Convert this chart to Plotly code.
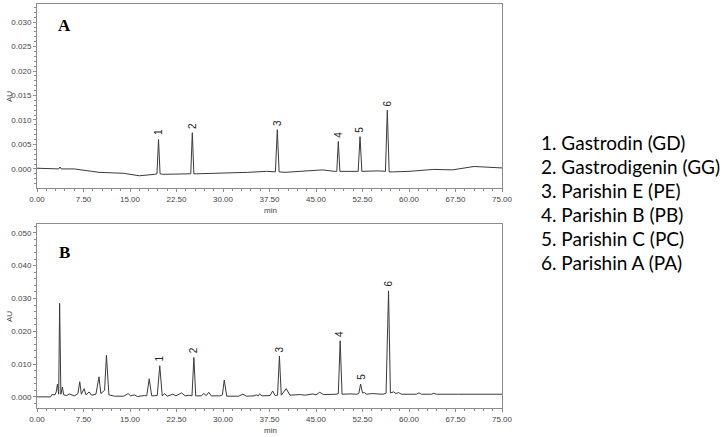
import plotly.graph_objects as go

# chromatogram A (standard mix) - retention time (min) and absorbance (AU)
a_time = [0, 2.0, 3.5, 3.7, 3.9, 6.0, 10.0, 14.0, 16.5,
          19.0, 19.35, 19.6, 19.85, 20.3,
          24.4, 24.8, 25.05, 25.3, 25.7,
          30.0, 34.0, 37.0, 38.45, 38.76, 39.05, 40.0,
          45.0, 46.0, 48.0, 48.35, 48.6, 48.85, 50.0,
          51.8, 52.1, 52.4, 55.0, 56.2, 56.5, 56.8, 57.5,
          60.0, 64.0, 67.0, 70.5, 75.0]
a_au = [0.00014, 0.0001, 0.0000, 0.0004, 0.0000, 0.0000, -0.0007, -0.0009, -0.0014,
        -0.0011, -0.0010, 0.0060, -0.0010, -0.0011,
        -0.0011, -0.0010, 0.0074, -0.0010, -0.0010,
        -0.0009, -0.0007, -0.0005, -0.0006, 0.0080, -0.0006, -0.0007,
        -0.0002, -0.0002, -0.0005, -0.0005, 0.0056, -0.0005, -0.0005,
        -0.0005, 0.0066, -0.0005, -0.0004, -0.0005, 0.0120, -0.0006, -0.0006,
        -0.0005, -0.0001, -0.0002, 0.0005, 0.0002]

# chromatogram B (sample)
b_time = [0, 2.2, 2.4, 2.9, 3.1, 3.3, 3.5, 3.65, 3.85, 4.1, 4.3, 4.8, 5.2, 5.6,
          6.0, 6.3, 6.6, 6.9, 7.15, 7.6, 7.9, 8.4, 8.8, 9.5, 10.0, 10.3, 10.6,
          10.9, 11.2, 11.6, 12.5, 14.0, 14.7, 15.1, 15.7, 16.2, 17.3, 17.7,
          18.1, 18.5, 19.4, 19.8, 20.2, 20.6, 21.0, 21.9, 22.4, 23.3, 23.9,
          24.5, 25.0, 25.3, 25.6, 26.5, 26.9, 27.3, 27.7, 28.1, 29.5, 29.9,
          30.2, 30.6, 32.5, 33.2, 33.8, 35.0, 35.4, 35.7, 35.9, 36.3, 37.6,
          38.0, 38.4, 38.8, 39.1, 39.4, 40.2, 40.8, 42.5, 43.2, 44.5, 45.0,
          45.6, 46.2, 48.2, 48.6, 48.9, 49.2, 50.5, 51.5, 51.9, 52.2, 52.5,
          52.8, 53.2, 54.0, 55.8, 56.3, 56.7, 57.0, 57.5, 57.9, 58.3, 58.8,
          61.2, 61.6, 62.0, 63.6, 64.0, 64.4, 68.0, 75.0]
b_au = [0.0, 0.0, 0.0007, 0.0006, 0.0015, 0.0039, 0.0008, 0.0285, 0.0008, 0.0030, 0.0006, 0.0004, 0.0009, 0.0006,
        0.0003, 0.0006, 0.0010, 0.0046, 0.0008, 0.0025, 0.0006, 0.0015, 0.0005, 0.0008, 0.0061, 0.0010, 0.0016,
        0.0020, 0.0127, 0.0006, 0.0002, 0.0002, 0.0010, 0.0003, 0.0006, 0.0001, 0.0004, 0.0003,
        0.0055, 0.0003, 0.0004, 0.0095, 0.0003, 0.0010, 0.0002, 0.0008, 0.0003, 0.0012, 0.0003,
        0.0005, 0.0003, 0.0120, 0.0003, 0.0003, 0.0010, 0.0004, 0.0014, 0.0003, 0.0003, 0.0006,
        0.0051, 0.0002, 0.0002, 0.0008, 0.0002, 0.0003, 0.0006, 0.0003, 0.0009, 0.0003, 0.0004,
        0.0018, 0.0004, 0.0005, 0.0124, 0.0005, 0.0025, 0.0005, 0.0007, 0.0005, 0.0009, 0.0006,
        0.0014, 0.0007, 0.0008, 0.0010, 0.0171, 0.0008, 0.0009, 0.0008, 0.0010, 0.0039, 0.0012,
        0.0013, 0.0008, 0.0010, 0.0008, 0.0011, 0.0323, 0.0012, 0.0015, 0.0010, 0.0013, 0.0008,
        0.0008, 0.0012, 0.0008, 0.0008, 0.0011, 0.0008, 0.0008, 0.0008]

peak_no = ['1', '2', '3', '4', '5', '6']
a_peak_t = [19.6, 25.05, 38.76, 48.6, 52.1, 56.5]
a_peak_h = [0.0060, 0.0074, 0.0080, 0.0056, 0.0066, 0.0120]
b_peak_t = [19.8, 25.3, 39.1, 48.9, 52.2, 56.7]
b_peak_h = [0.0095, 0.0120, 0.0124, 0.0171, 0.0039, 0.0323]

compounds = ['1. Gastrodin (GD)', '2. Gastrodigenin (GG)', '3. Parishin E (PE)',
             '4. Parishin B (PB)', '5. Parishin C (PC)', '6. Parishin A (PA)']

W, H = 727, 437
line_col = '#3a3a3a'
frame_col = '#8c8c8c'
tick_font = dict(family='Arial', size=8, color='#444444')

fig = go.Figure()
fig.add_trace(go.Scatter(x=a_time, y=a_au, mode='lines', line=dict(color=line_col, width=1),
                         xaxis='x', yaxis='y', showlegend=False))
fig.add_trace(go.Scatter(x=b_time, y=b_au, mode='lines', line=dict(color=line_col, width=1),
                         xaxis='x2', yaxis='y2', showlegend=False))

def px_x(p):
    return p / W

def px_y(p):
    return 1 - p / H

xax = dict(range=[0, 75], tick0=0, dtick=7.5, tickformat='.2f', ticks='outside', ticklen=3,
           tickcolor=frame_col, showgrid=False, zeroline=False, showline=True, linecolor=frame_col,
           linewidth=1, mirror=True, tickfont=tick_font, automargin=False,
           minor=dict(dtick=1.5, ticks='outside', ticklen=2, tickcolor=frame_col))
yax = dict(tickformat='.3f', ticks='outside', ticklen=3, tickcolor=frame_col, showgrid=False,
           zeroline=False, showline=True, linecolor=frame_col, linewidth=1, mirror=True,
           tickfont=tick_font, automargin=False)

fig.update_layout(
    width=W, height=H,
    margin=dict(l=0, r=0, t=0, b=0, autoexpand=False),
    paper_bgcolor='white', plot_bgcolor='white',
    xaxis=dict(xax, domain=[px_x(37), px_x(502)], anchor='y'),
    yaxis=dict(yax, domain=[px_y(188), px_y(4)], anchor='x', range=[-0.0039, 0.0337],
               tick0=0, dtick=0.005, minor=dict(dtick=0.001, ticks='outside', ticklen=2, tickcolor=frame_col)),
    xaxis2=dict(xax, domain=[px_x(37), px_x(502)], anchor='y2'),
    yaxis2=dict(yax, domain=[px_y(408), px_y(224)], anchor='x2', range=[-0.0034, 0.0527],
                tick0=0, dtick=0.01, minor=dict(dtick=0.002, ticks='outside', ticklen=2, tickcolor=frame_col)),
)

ann = []
# peak numbers
for xr, yr, ts, hs in [('x', 'y', a_peak_t, a_peak_h), ('x2', 'y2', b_peak_t, b_peak_h)]:
    for n, t, h in zip(peak_no, ts, hs):
        ann.append(dict(x=t, y=h, xref=xr, yref=yr, text=n, showarrow=False, textangle=-90,
                        yanchor='bottom', xanchor='center', yshift=2,
                        font=dict(family='Arial', size=10, color='#222222')))

def paper_text(x, y, text, font, **kw):
    d = dict(x=px_x(x), y=px_y(y), xref='paper', yref='paper', text=text, showarrow=False,
             xanchor='center', yanchor='middle', font=font)
    d.update(kw)
    return d

# panel letters
letter_font = dict(family='Liberation Serif', size=17, color='black')
ann.append(paper_text(64, 25.5, '<b>A</b>', letter_font))
ann.append(paper_text(64, 252.5, '<b>B</b>', letter_font))

# axis titles
axis_font = dict(family='Arial', size=8, color='#444444')
for yc in [97, 317]:
    ann.append(paper_text(9, yc, 'AU', axis_font, textangle=-90))
for yc in [210, 430]:
    ann.append(paper_text(270, yc, 'min', axis_font))

# compound key
for i, c in enumerate(compounds):
    ann.append(paper_text(539, 143 + i * 23.8, c, dict(family='Lato', size=19, color='black'),
                          xanchor='left'))

fig.update_layout(annotations=ann)
fig.write_html('out.html', config={'displayModeBar': False},
               post_script="document.body.style.margin='0px';")
